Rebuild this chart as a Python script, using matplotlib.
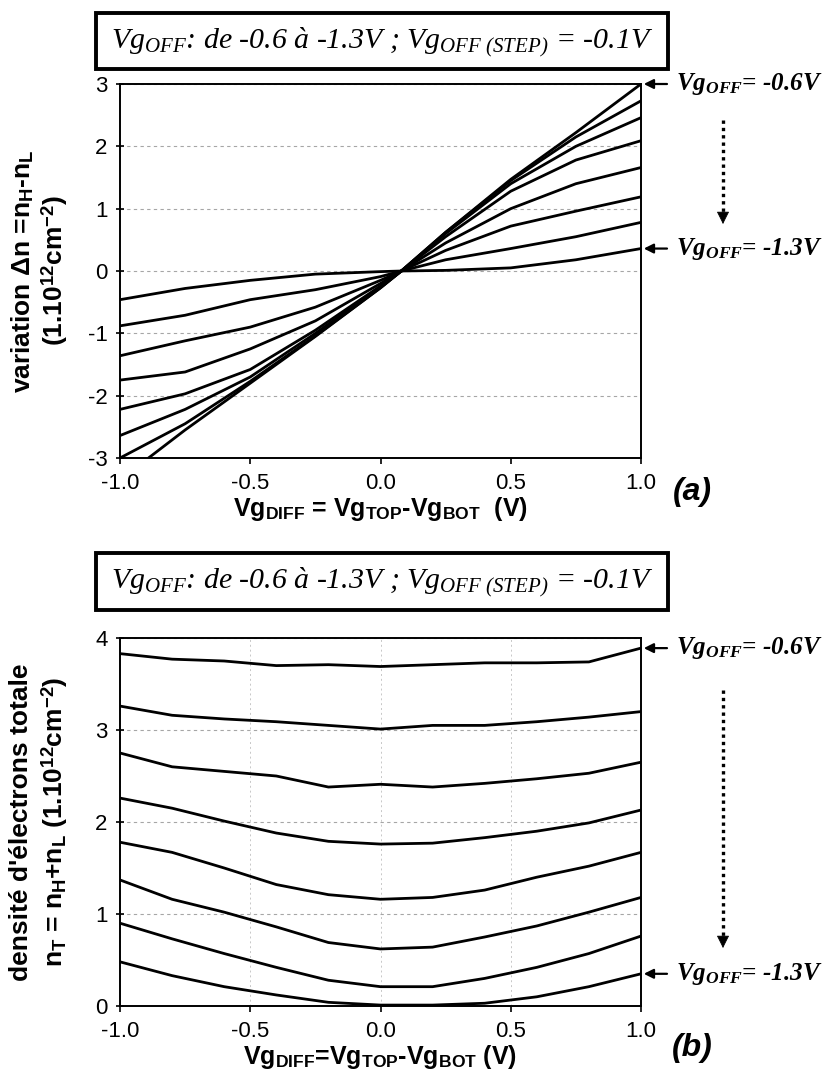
import numpy as np
import matplotlib
matplotlib.use("Agg")
import matplotlib.pyplot as plt
from matplotlib.patches import Rectangle, FancyArrowPatch
from matplotlib.lines import Line2D
from matplotlib.ticker import FormatStrFormatter

plt.rcParams.update({
    'font.family': ['Liberation Sans', 'DejaVu Sans'],
    'axes.unicode_minus': False,
    'mathtext.fontset': 'custom',
    'mathtext.rm': 'Liberation Serif:italic',
    'mathtext.it': 'Liberation Serif:italic',
    'mathtext.bf': 'Liberation Serif:italic:bold',
    'mathtext.sf': 'Liberation Sans:bold',
})

# ---- data -------------------------------------------------------------
vg_off = [-0.6, -0.7, -0.8, -0.9, -1.0, -1.1, -1.2, -1.3]

# (a) charge imbalance  dn = nH - nL  (1e12 cm^-2)
x_diff = [-1.0, -0.75, -0.5, -0.25, 0.0, 0.08, 0.25, 0.5, 0.75, 1.0]
dn_06 = [-3.35, -2.55, -1.80, -1.05, -0.27, 0.0, 0.62, 1.47, 2.22, 3.00]
dn_07 = [-3.00, -2.45, -1.77, -1.04, -0.27, 0.0, 0.62, 1.45, 2.15, 2.73]
dn_08 = [-2.64, -2.22, -1.70, -1.00, -0.26, 0.0, 0.60, 1.40, 2.00, 2.46]
dn_09 = [-2.22, -1.97, -1.58, -0.95, -0.24, 0.0, 0.55, 1.28, 1.78, 2.09]
dn_10 = [-1.75, -1.62, -1.25, -0.80, -0.20, 0.0, 0.45, 1.00, 1.40, 1.66]
dn_11 = [-1.36, -1.12, -0.90, -0.58, -0.15, 0.0, 0.33, 0.72, 0.96, 1.19]
dn_12 = [-0.88, -0.71, -0.46, -0.30, -0.09, 0.0, 0.18, 0.36, 0.55, 0.78]
dn_13 = [-0.46, -0.28, -0.15, -0.05, -0.01, 0.0, 0.01, 0.05, 0.18, 0.36]
delta_n = [dn_06, dn_07, dn_08, dn_09, dn_10, dn_11, dn_12, dn_13]

# (b) total density  nT = nH + nL  (1e12 cm^-2)
x_tot = [-1.0, -0.8, -0.6, -0.4, -0.2, 0.0, 0.2, 0.4, 0.6, 0.8, 1.0]
nt_06 = [3.83, 3.77, 3.75, 3.70, 3.71, 3.69, 3.71, 3.73, 3.73, 3.74, 3.89]
nt_07 = [3.26, 3.16, 3.12, 3.09, 3.05, 3.01, 3.05, 3.05, 3.09, 3.14, 3.20]
nt_08 = [2.75, 2.60, 2.55, 2.50, 2.38, 2.41, 2.38, 2.42, 2.47, 2.53, 2.65]
nt_09 = [2.26, 2.15, 2.01, 1.88, 1.79, 1.76, 1.77, 1.83, 1.90, 1.99, 2.13]
nt_10 = [1.78, 1.67, 1.50, 1.32, 1.21, 1.16, 1.18, 1.26, 1.40, 1.52, 1.67]
nt_11 = [1.37, 1.16, 1.02, 0.86, 0.69, 0.62, 0.64, 0.75, 0.87, 1.02, 1.18]
nt_12 = [0.90, 0.73, 0.57, 0.42, 0.28, 0.21, 0.21, 0.30, 0.42, 0.57, 0.76]
nt_13 = [0.48, 0.33, 0.21, 0.12, 0.04, 0.01, 0.01, 0.03, 0.10, 0.21, 0.35]
n_total = [nt_06, nt_07, nt_08, nt_09, nt_10, nt_11, nt_12, nt_13]

x_ticks = [-1.0, -0.5, 0.0, 0.5, 1.0]

# ---- layout helpers (pixel -> figure fraction) -------------------------
W, H = 835, 1085
fig = plt.figure(figsize=(W / 100, H / 100), dpi=100)


def fx(px):
    return px / W


def fy(py):
    return 1 - py / H


AX_L, AX_R = 120, 641
ax1 = fig.add_axes([fx(AX_L), fy(458), (AX_R - AX_L) / W, (458 - 84) / H])
ax2 = fig.add_axes([fx(AX_L), fy(1006), (AX_R - AX_L) / W, (1006 - 638) / H])

serif_it = dict(family='Liberation Serif', style='italic')
label_font = dict(family='Liberation Sans', weight='bold')


def style_axes(ax, ylim, yticks):
    ax.set_xlim(-1.0, 1.0)
    ax.set_ylim(*ylim)
    ax.set_xticks(x_ticks)
    ax.set_yticks(yticks)
    ax.xaxis.set_major_formatter(FormatStrFormatter('%.1f'))
    ax.tick_params(axis='x', direction='out', length=4.5, width=1.2,
                   labelsize=16, pad=6)
    ax.tick_params(axis='y', direction='inout', length=6, width=1.2,
                   labelsize=16, pad=6)
    for sp in ax.spines.values():
        sp.set_linewidth(1.4)
    ax.yaxis.grid(True, color='0.65', ls=(0, (3, 3)), lw=0.8)
    ax.set_axisbelow(True)


# ---- (a) ---------------------------------------------------------------
for series in delta_n:
    ax1.plot(x_diff, series, color='k', lw=2.0, solid_joinstyle='round')
style_axes(ax1, (-3, 3), [-3, -2, -1, 0, 1, 2, 3])
ax1.set_xlabel(r"Vg$_{\mathsf{DIFF}}$ = Vg$_{\mathsf{TOP}}$-Vg$_{\mathsf{BOT}}$  (V)",
               fontsize=18, labelpad=1, **label_font)

# ---- (b) ---------------------------------------------------------------
for series in n_total:
    ax2.plot(x_tot, series, color='k', lw=2.0, solid_joinstyle='round')
style_axes(ax2, (0, 4), [0, 1, 2, 3, 4])
ax2.xaxis.grid(True, color='0.78', ls=(0, (2, 3)), lw=0.7)
ax2.set_xlabel(r"Vg$_{\mathsf{DIFF}}$=Vg$_{\mathsf{TOP}}$-Vg$_{\mathsf{BOT}}$ (V)",
               fontsize=18, labelpad=1, **label_font)

# ---- y labels ----------------------------------------------------------
yc1 = (84 + 458) / 2
yc2 = (638 + 1006) / 2
fig.text(fx(23), fy(yc1), r"variation Δn =n$_{\mathsf{H}}$-n$_{\mathsf{L}}$",
         rotation=90, ha='center', va='center', fontsize=19, **label_font)
fig.text(fx(55), fy(yc1), r"(1.10$^{\mathsf{12}}$cm$^{\mathsf{-2}}$)",
         rotation=90, ha='center', va='center', fontsize=19, **label_font)
fig.text(fx(21), fy(yc2), "densité d'électrons totale",
         rotation=90, ha='center', va='center', fontsize=19, **label_font)
fig.text(fx(55), fy(yc2),
         r"n$_{\mathsf{T}}$ = n$_{\mathsf{H}}$+n$_{\mathsf{L}}$ (1.10$^{\mathsf{12}}$cm$^{\mathsf{-2}}$)",
         rotation=90, ha='center', va='center', fontsize=19, **label_font)

# ---- panel letters -----------------------------------------------------
fig.text(fx(692), fy(492), "(a)", ha='center', va='center', fontsize=23,
         family='Liberation Sans', weight='bold', style='italic')
fig.text(fx(692), fy(1048), "(b)", ha='center', va='center', fontsize=23,
         family='Liberation Sans', weight='bold', style='italic')

# ---- framed headers ----------------------------------------------------
header = r"Vg$_{OFF}$: de -0.6 à -1.3V ; Vg$_{OFF\ (STEP)}$ = -0.1V"
for top, bot in [(13, 69), (553, 610)]:
    fig.add_artist(Rectangle((fx(96), fy(bot)), (668 - 96) / W, (bot - top) / H,
                             transform=fig.transFigure, fill=False,
                             lw=2.8, ec='k'))
    fig.text(fx(382), fy((top + bot) / 2 + 1), header, ha='center', va='center',
             fontsize=21.5, **serif_it)

# ---- Vg_OFF end-of-curve markers --------------------------------------
def end_marker(ax, value, text):
    ax.annotate("", xy=(1.0, value), xycoords='data',
                xytext=(26, 0), textcoords='offset pixels',
                arrowprops=dict(arrowstyle='-|>', color='k', lw=1.6,
                                mutation_scale=14, shrinkA=0, shrinkB=2),
                annotation_clip=False)
    ax.annotate(text, xy=(1.0, value), xycoords='data',
                xytext=(35, 0), textcoords='offset pixels',
                ha='left', va='center', fontsize=18, family='Liberation Serif',
                style='italic', weight='bold', annotation_clip=False)


for ax, series in [(ax1, delta_n), (ax2, n_total)]:
    end_marker(ax, series[0][-1], r"Vg$_{\mathbf{OFF}}$= -0.6V")
    end_marker(ax, series[-1][-1], r"Vg$_{\mathbf{OFF}}$= -1.3V")


def dotted_arrow(x, y0, y1):
    fig.add_artist(Line2D([fx(x), fx(x)], [fy(y0), fy(y1 - 10)],
                          transform=fig.transFigure, color='k', lw=2.4,
                          ls=(0, (1, 1.2)), solid_capstyle='butt'))
    fig.add_artist(FancyArrowPatch((fx(x), fy(y1 - 12)), (fx(x), fy(y1)),
                                   transform=fig.transFigure,
                                   arrowstyle='-|>', mutation_scale=20,
                                   color='k', lw=0.5, shrinkA=0, shrinkB=0))


dotted_arrow(723, 120, 224)
dotted_arrow(723, 690, 948)

fig.savefig("out.png", dpi=100)
